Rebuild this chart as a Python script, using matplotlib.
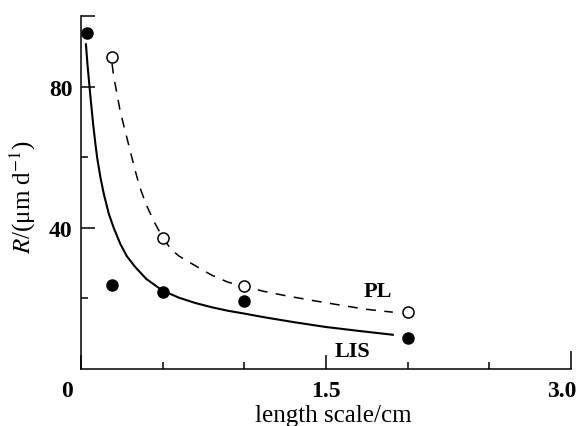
import matplotlib
matplotlib.use("Agg")
import matplotlib.pyplot as plt
from matplotlib.transforms import ScaledTranslation

plt.rcParams["font.family"] = ["Liberation Serif", "DejaVu Serif"]
plt.rcParams["mathtext.fontset"] = "stix"

# fitted curves
lis_fit_x = [0.03, 0.04, 0.05, 0.06, 0.075, 0.09, 0.1, 0.12, 0.14, 0.17, 0.2, 0.24, 0.28, 0.33,
             0.4, 0.5, 0.6, 0.7, 0.8, 0.9, 1.0, 1.13, 1.3, 1.5, 1.7, 1.91]
lis_fit_y = [92, 86, 81, 76, 69, 63, 59.5, 54, 49.5, 44, 40, 35.5, 32, 29,
             25.5, 22.2, 20.2, 18.7, 17.5, 16.5, 15.7, 14.6, 13.3, 11.9, 10.8, 9.7]
pl_fit_x = [0.19, 0.2, 0.22, 0.24, 0.27, 0.3, 0.33, 0.36, 0.4, 0.45, 0.5, 0.55, 0.6, 0.68,
            0.8, 0.9, 1.0, 1.12, 1.25, 1.42, 1.6, 1.75, 1.91]
pl_fit_y = [86.5, 83, 78, 73, 67.5, 62, 56.5, 51.5, 46.5, 41.5, 37.3, 34, 32, 29.8,
            26.6, 24.6, 23.4, 22.0, 20.8, 19.4, 18.0, 16.9, 16.1]

# measured points
lis_x = [0.035, 0.19, 0.5, 1.0, 2.0]
lis_y = [95.3, 23.9, 21.8, 19.2, 8.8]
pl_x = [0.19, 0.5, 1.0, 2.0]
pl_y = [88.4, 37.1, 23.5, 16.1]

x_major = [0, 1.5, 3.0]
x_major_labels = ["0", "1.5", "3.0"]
x_minor = [0.5, 1.0, 2.0, 2.5]
y_major = [40, 80, 100]
y_major_labels = ["40", "80", ""]
y_minor = [20, 60]

fig = plt.figure(figsize=(5.83, 4.27), dpi=100)
ax = fig.add_axes([0.139, 0.1335, 0.840, 0.8265])

ax.plot(lis_fit_x, lis_fit_y, color="black", lw=1.5, zorder=2)
pl_line, = ax.plot(pl_fit_x, pl_fit_y, color="black", lw=1.1, zorder=2)
pl_line.set_dashes((6.5, 5.5))

ax.plot(lis_x, lis_y, "o", color="black", markersize=8, zorder=3, clip_on=False)
ax.plot(pl_x, pl_y, "o", markerfacecolor="white", markeredgecolor="black",
        markeredgewidth=1.1, markersize=8, zorder=3, clip_on=False)

ax.text(1.816, 22.2, "PL", fontsize=16, fontweight="bold", ha="center", va="center")
ax.text(1.663, 5.0, "LIS", fontsize=16, fontweight="bold", ha="center", va="center")

ax.set_xlim(0, 3.0)
ax.set_ylim(0, 100)
for s in ["top", "right"]:
    ax.spines[s].set_visible(False)
for s in ["left", "bottom"]:
    ax.spines[s].set_linewidth(1.1)

ax.set_xticks(x_major)
ax.set_xticklabels(x_major_labels)
ax.set_xticks(x_minor, minor=True)
ax.set_yticks(y_major)
ax.set_yticklabels(y_major_labels)
ax.set_yticks(y_minor, minor=True)
ax.tick_params(which="major", direction="in", length=10, width=1.1, labelsize=17)
ax.tick_params(which="minor", direction="in", length=5, width=1.1)
ax.tick_params(axis="x", which="major", pad=8)
ax.tick_params(axis="y", which="major", pad=6)
for lab in ax.get_xticklabels() + ax.get_yticklabels():
    lab.set_fontweight("bold")

# the last x tick is drawn a little longer
ax.xaxis.get_major_ticks()[2].tick1line.set_markersize(13)

# the corner "0" sits left of the origin, "3.0" is pulled in
xlabs = ax.get_xticklabels()
xlabs[0].set_transform(xlabs[0].get_transform() + ScaledTranslation(-14 / 100, 0, fig.dpi_scale_trans))
xlabs[2].set_transform(xlabs[2].get_transform() + ScaledTranslation(-9 / 100, 0, fig.dpi_scale_trans))

ax.set_xlabel("length scale/cm", fontsize=18)
ax.xaxis.set_label_coords(0.516, -0.099)
ylab = ax.set_ylabel(r"$R$/(μm d$^{-1}$)", fontsize=18)
ylab.set_verticalalignment("center")
ax.yaxis.set_label_coords(-0.118, 0.49)

fig.savefig("out.png", dpi=100)
